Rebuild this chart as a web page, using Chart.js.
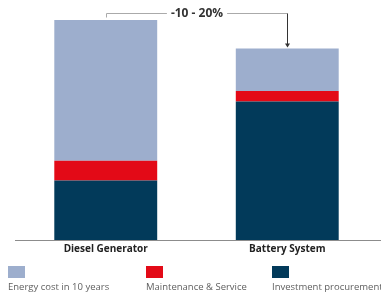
<!DOCTYPE html>
<html>
<head>
<meta charset="utf-8">
<script src="https://cdn.jsdelivr.net/npm/chart.js@4"></script>
<style>
  body { margin: 0; background: #fff; }
  .wrap { position: relative; width: 381px; height: 296px; }
  .legend-item { position: absolute; top: 266px; font: 9.5px "Open Sans", sans-serif; color: #606060; white-space: nowrap; }
  .legend-item span { display: block; width: 17px; height: 12px; margin-bottom: 2px; }
</style>
</head>
<body>
<div class="wrap">
  <canvas id="cost-chart" width="381" height="296"></canvas>
  <div class="legend-item" style="left:8px"><span style="background:#9daecd"></span>Energy cost in 10 years</div>
  <div class="legend-item" style="left:146px"><span style="background:#e30a17"></span>Maintenance &amp; Service</div>
  <div class="legend-item" style="left:272px"><span style="background:#023a5a"></span>Investment procurement</div>
</div>
<script>
// data (diesel total = 100)
const categories = ['Diesel Generator', 'Battery System'];
const investment = [27, 63];
const maintenance = [9, 4.7];
const energy = [64, 19.3];
const savingLabel = '-10 - 20%';

// axis line, category labels and the saving bracket
const extras = {
  id: 'extras',
  afterDraw(chart) {
    const ctx = chart.ctx;
    const x = chart.scales.x;
    const y = chart.scales.y;
    const area = chart.chartArea;

    ctx.save();
    ctx.strokeStyle = '#8c8c8c';
    ctx.lineWidth = 1;
    ctx.beginPath();
    ctx.moveTo(area.left, area.bottom + 0.5);
    ctx.lineTo(381, area.bottom + 0.5);
    ctx.stroke();

    ctx.fillStyle = '#222';
    ctx.font = 'bold 10px "Open Sans", sans-serif';
    ctx.textAlign = 'center';
    ctx.textBaseline = 'middle';
    categories.forEach((c, i) => {
      ctx.fillText(c, x.getPixelForValue(i), area.bottom + 9.5);
    });

    // bracket
    const x1 = Math.round(x.getPixelForValue(0)) + 0.5;
    const x2 = Math.round(x.getPixelForValue(1)) + 0.5;
    const top2 = y.getPixelForValue(investment[1] + maintenance[1] + energy[1]);
    const ly = 13.5;
    ctx.font = 'bold 12px "Open Sans", sans-serif';
    const tw = ctx.measureText(savingLabel).width;
    const mid = (x1 + x2) / 2;
    ctx.strokeStyle = '#aaa';
    ctx.beginPath();
    ctx.moveTo(x1, ly + 4);
    ctx.lineTo(x1, ly);
    ctx.lineTo(mid - tw / 2 - 4, ly);
    ctx.moveTo(mid + tw / 2 + 4, ly);
    ctx.lineTo(x2, ly);
    ctx.stroke();
    ctx.strokeStyle = '#333';
    ctx.beginPath();
    ctx.moveTo(x2, ly);
    ctx.lineTo(x2, top2 - 4);
    ctx.stroke();
    ctx.fillStyle = '#333';
    ctx.beginPath();
    ctx.moveTo(x2 - 2.5, top2 - 5);
    ctx.lineTo(x2 + 2.5, top2 - 5);
    ctx.lineTo(x2, top2 - 1);
    ctx.closePath();
    ctx.fill();
    ctx.fillText(savingLabel, mid, ly);
    ctx.restore();
  }
};

const costData = {
  labels: categories,
  datasets: [
    { label: 'Investment procurement', data: investment, backgroundColor: '#023a5a' },
    { label: 'Maintenance & Service', data: maintenance, backgroundColor: '#e30a17' },
    { label: 'Energy cost in 10 years', data: energy, backgroundColor: '#9daecd' }
  ]
};

const costOptions = {
  responsive: false,
  animation: { duration: 0 },
  layout: { padding: { left: 15, right: 3, top: 20, bottom: 56 } },
  datasets: { bar: { barPercentage: 0.567, categoryPercentage: 1 } },
  scales: {
    x: { stacked: true, display: false },
    y: { stacked: true, display: false, min: 0, max: 100 }
  },
  plugins: {
    legend: { display: false },
    tooltip: { enabled: false }
  }
};

new Chart(document.getElementById('cost-chart'), {
  type: 'bar',
  data: costData,
  options: costOptions,
  plugins: [extras]
});
</script>
</body>
</html>
